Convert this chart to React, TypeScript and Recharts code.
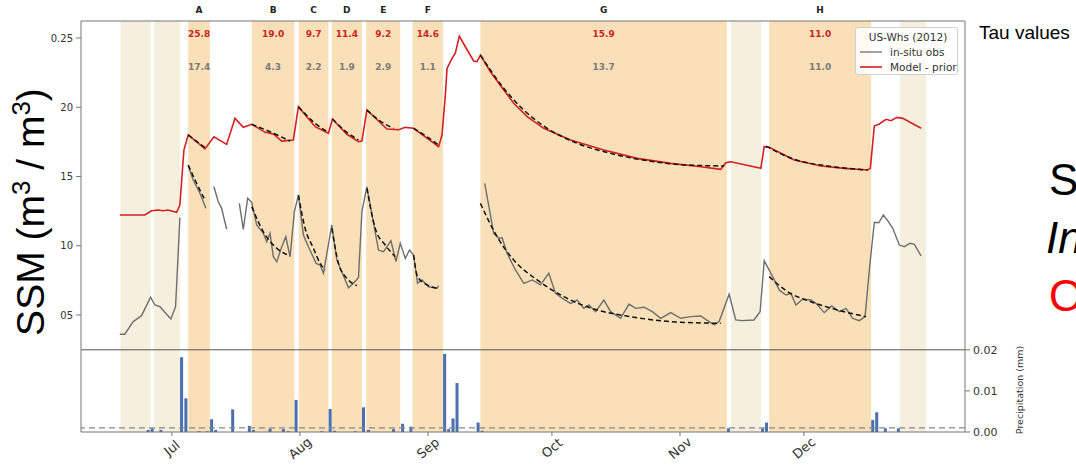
import {
  ComposedChart,
  Line,
  Bar,
  XAxis,
  YAxis,
  ReferenceArea,
  ReferenceLine,
  Legend,
} from "recharts";

// day 0 = 1 Jul 2012
const monthTicks = [0, 31, 62, 92, 123, 153];
const monthNames = ["Jul", "Aug", "Sep", "Oct", "Nov", "Dec"];
const ssmTicks = [0.05, 0.1, 0.15, 0.2, 0.25];
const precipTicks = [0, 0.01, 0.02];

// drydown periods: [start, end], letter, tau model, tau obs
const drydowns: [number, number][] = [
  [3.95, 9.21], [19.33, 29.66], [30.72, 37.9], [38.72, 46.0],
  [47.04, 55.29], [58.27, 65.64], [74.69, 134.34], [144.6, 169.26],
];
const drydownNames = ["A", "B", "C", "D", "E", "F", "G", "H"];
const tauModel = ["25.8", "19.0", "9.7", "11.4", "9.2", "14.6", "15.9", "11.0"];
const tauObs = ["17.4", "4.3", "2.2", "1.9", "2.9", "1.1", "13.7", "11.0"];

// periods shaded without a fit
const otherPeriods: [number, number][] = [
  [-12.44, -5.16], [-4.29, 1.94], [135.3, 142.58], [176.28, 182.59],
];

const modelPrior: [number, number][] = [
  [-12.61, 0.1222], [-6.55, 0.1222], [-4.92, 0.1253], [-3.32, 0.1258], [-2.11, 0.1253],
  [-0.97, 0.1258], [1.14, 0.1242], [1.94, 0.1294], [2.91, 0.1691], [3.95, 0.18],
  [5.99, 0.1751], [8.0, 0.1699], [10.18, 0.1787], [13.26, 0.1732], [15.28, 0.192],
  [17.29, 0.1855], [19.33, 0.1877], [22.55, 0.1819], [24.56, 0.1807], [26.6, 0.1756],
  [29.41, 0.1764], [30.63, 0.2004], [34.68, 0.186], [37.9, 0.1812], [38.87, 0.1915],
  [42.36, 0.1805], [45.17, 0.1751], [46.0, 0.1756], [47.21, 0.198], [52.06, 0.1843],
  [54.87, 0.1838], [56.5, 0.1855], [58.51, 0.1848], [64.57, 0.1715], [65.4, 0.18],
  [66.2, 0.2088], [66.61, 0.2281], [67.82, 0.2353], [68.62, 0.239], [69.59, 0.2514],
  [71.04, 0.2437], [73.06, 0.2334], [73.89, 0.2329], [74.69, 0.2377], [77.11, 0.2257],
  [80.34, 0.2125], [82.76, 0.2029], [86.01, 0.1932], [90.03, 0.1848], [96.51, 0.1764],
  [104.58, 0.1691], [112.68, 0.1631], [120.76, 0.1595], [128.03, 0.1571], [132.88, 0.1552],
  [134.1, 0.16], [135.3, 0.1607], [142.58, 0.1559], [143.38, 0.1715], [144.6, 0.1711],
  [150.66, 0.1619], [157.13, 0.1576], [162.78, 0.1559], [168.45, 0.1547], [169.08, 0.1559],
  [170.05, 0.1865], [171.27, 0.1879], [172.89, 0.1913], [174.1, 0.1903], [175.56, 0.1927],
  [176.94, 0.192], [181.38, 0.1848],
];

// null = no observation
const inSitu: [number, number | null][] = [
  [-12.61, 0.0361], [-11.4, 0.0361], [-9.38, 0.0452], [-7.35, 0.0495], [-5.16, 0.0628],
  [-4.12, 0.0572], [-2.91, 0.056], [-0.24, 0.0471], [0.89, 0.056], [1.94, 0.1203],
  [2.9, null],
  [3.95, 0.1578], [5.17, 0.1475], [6.79, 0.1379], [8.24, 0.127],
  [9.2, null],
  [10.18, 0.1426], [11.23, 0.1318], [12.05, 0.127], [13.26, 0.1119],
  [14.8, null],
  [16.33, 0.1306], [17.29, 0.1119], [18.35, 0.1343], [19.33, 0.1314], [20.53, 0.115],
  [22.14, 0.109], [22.96, 0.1029], [23.76, 0.109], [24.56, 0.0921], [25.39, 0.0885],
  [26.6, 0.0993], [27.57, 0.1065], [28.61, 0.0921], [29.66, 0.1246], [30.63, 0.1366],
  [31.84, 0.1078], [33.05, 0.0993], [34.92, 0.0873], [35.89, 0.0861], [36.69, 0.0801],
  [38.72, 0.115], [39.94, 0.0897], [42.75, 0.0697], [43.96, 0.0729], [45.17, 0.0769],
  [46.0, 0.1246], [47.21, 0.1426], [50.02, 0.0969], [51.24, 0.0957], [53.03, 0.1036],
  [54.24, 0.0885], [55.29, 0.1018], [56.5, 0.0909], [57.54, 0.0969], [58.51, 0.0933],
  [59.48, 0.0729], [60.55, 0.0753], [62.15, 0.0704], [64.19, 0.0693], [64.57, 0.0712],
  [70, null],
  [75.73, 0.1451], [77.91, 0.109], [79.12, 0.1054], [79.95, 0.1058], [81.16, 0.0945],
  [83.17, 0.0825], [85.19, 0.0729], [87.22, 0.0753], [89.23, 0.0717], [91.24, 0.0801],
  [92.87, 0.0657], [94.49, 0.0621], [96.51, 0.0584], [98.13, 0.0608], [99.73, 0.0548],
  [100.95, 0.0572], [102.57, 0.0524], [104.58, 0.0608], [106.21, 0.0524], [108.63, 0.0476],
  [110.65, 0.0579], [112.27, 0.0548], [114.28, 0.0556], [116.32, 0.0524], [118.33, 0.0476],
  [120.76, 0.0517], [123.18, 0.0476], [125.61, 0.0488], [128.03, 0.0493], [130.04, 0.0452],
  [131.3, 0.0428], [132.5, 0.0455], [134.9, 0.065], [136.5, 0.0464], [138.0, 0.0459],
  [140.9, 0.0464], [142.4, 0.0524], [143.4, 0.0892], [145.42, 0.0777], [147.02, 0.0681],
  [148.64, 0.0644], [149.85, 0.0657], [151.07, 0.0572], [152.69, 0.0613], [154.7, 0.0608],
  [155.92, 0.0584], [157.93, 0.0517], [159.72, 0.0565], [161.57, 0.0524], [163.19, 0.0548],
  [164.82, 0.0476], [166.42, 0.0459], [167.8, 0.0488], [169.08, 0.0897], [170.05, 0.1169],
  [171.12, 0.1166], [172.23, 0.1222], [173.3, 0.1181], [174.51, 0.1126], [176.11, 0.1005],
  [177.32, 0.0993], [178.71, 0.1018], [179.75, 0.101], [181.38, 0.0926],
];

// exponential drydown fits (dashed)
const fitModel: [number, number | null][] = [
  [3.95, 0.18], [8.0, 0.1708], [9, null],
  [19.33, 0.1877], [23.76, 0.1823], [28.61, 0.1756], [29.5, null],
  [30.63, 0.2004], [34.68, 0.1884], [37.9, 0.1819], [38.3, null],
  [38.87, 0.1915], [42.36, 0.1819], [45.17, 0.1764], [46.5, null],
  [47.21, 0.198], [50.44, 0.19], [53.66, 0.1848], [56, null],
  [58.51, 0.1848], [61.76, 0.1787], [64.57, 0.1727], [66, null],
  [74.69, 0.2377], [80.34, 0.2137], [85.19, 0.198], [90.86, 0.1848], [98.13, 0.174],
  [106.21, 0.1667], [116.71, 0.1607], [124.8, 0.1583], [133.69, 0.1576], [138, null],
  [143.8, 0.172], [150.66, 0.1624], [158.75, 0.1576], [168.45, 0.1547],
];

const fitObs: [number, number | null][] = [
  [3.95, 0.1583], [5.99, 0.1451], [8.0, 0.133], [9, null],
  [19.33, 0.1282], [22.14, 0.1101], [25.39, 0.0982], [28.61, 0.0926], [29.5, null],
  [30.63, 0.1366], [32.25, 0.1126], [34.26, 0.0982], [35.89, 0.0873], [37.1, 0.0825], [38, null],
  [38.72, 0.1126], [40.33, 0.0873], [42.36, 0.0765], [44.79, 0.0712], [46.5, null],
  [47.21, 0.1415], [49.22, 0.1126], [51.65, 0.1005], [54.07, 0.0921], [56, null],
  [58.51, 0.0933], [59.48, 0.0777], [61.76, 0.0717], [64.19, 0.0693], [66, null],
  [74.69, 0.1306], [78.73, 0.1065], [82.76, 0.0897], [88.43, 0.0753], [94.88, 0.0632],
  [102.98, 0.0536], [111.06, 0.0488], [120.76, 0.0452], [132.88, 0.044], [138, null],
  [144.6, 0.0777], [149.05, 0.0668], [154.7, 0.0596], [161.17, 0.0536], [168.04, 0.0488],
];

const precipDays = [
  -5.74, -4.77, -2.67, 2.35, 3.39, 6.62, 8.56, 9.62, 10.6, 14.72, 18.75, 19.72, 23.76,
  26.99, 28.2, 30.07, 36.3, 38.31, 39.36, 44.4, 46.39, 47.6, 53.66, 55.85, 57.87, 66.03,
  67.0, 68.06, 69.03, 74.13, 75.1, 134.75, 143.0, 143.96, 169.66, 170.63, 172.72, 175.87,
];
const precipMm = [
  0.0005, 0.0009, 0.0005, 0.0182, 0.0082, 0.0002, 0.0002, 0.0031, 0.0005, 0.0055, 0.0015,
  0.0005, 0.0008, 0.0007, 0.0002, 0.0078, 0.0002, 0.0056, 0.0003, 0.0002, 0.006, 0.0005,
  0.0007, 0.002, 0.0013, 0.019, 0.0007, 0.0033, 0.0119, 0.0023, 0.0003, 0.0009, 0.0009,
  0.0023, 0.0029, 0.0048, 0.0009, 0.0009,
];

const BEIGE = "#f5efdd";
const ORANGE = "#f9e0b8";
const RED = "#d42020";
const GREY = "#6e6e6e";
const BLUE = "#4a6fae";
const FONT = "DejaVu Sans, sans-serif";
const SLIDE_FONT = "Liberation Sans, Arial, sans-serif";

const toPts = (arr: [number, number | null][]) => arr.map(([day, v]) => ({ day, v }));

const precipData = precipDays.map((day, i) => ({ day, p: precipMm[i] }));

// the numeric axis squeezes bar widths, so keep a fixed 3px bar centred on the day
function PrecipBar(props: any) {
  const { x, y, width, height } = props;
  if (!height || height <= 0) return null;
  return <rect x={x + width / 2 - 1.5} y={y} width={3} height={height} fill={BLUE} />;
}

function MonthTick({ x, y, payload }: any) {
  const label = monthNames[monthTicks.indexOf(payload.value)];
  return (
    <g transform={`translate(${x},${y + 10}) rotate(-40)`}>
      <text textAnchor="middle" dy="0.35em" fontSize={13} fill="#333" fontFamily={FONT}>
        {label}
      </text>
    </g>
  );
}

const drydownLabel = (i: number) => (props: any) => {
  const { x, y, width } = props.viewBox;
  const cx = x + width / 2;
  return (
    <g fontFamily={FONT} fontWeight="bold" fontSize={9} textAnchor="middle">
      <text x={cx} y={y - 11} dy="0.35em" fill="#222">{drydownNames[i]}</text>
      <text x={cx} y={y + 13} dy="0.35em" fill="#cc2222">{tauModel[i]}</text>
      <text x={cx} y={y + 46} dy="0.35em" fill="#7a7a7a">{tauObs[i]}</text>
    </g>
  );
};

function LegendBox() {
  return (
    <div
      style={{
        width: 103,
        height: 48,
        border: "1px solid #d0d0d0",
        borderRadius: 3,
        background: "rgba(255,255,255,0.85)",
        fontFamily: FONT,
        fontSize: 10.5,
        color: "#333",
        boxSizing: "border-box",
      }}
    >
      <svg width={103} height={48}>
        <text x={52} y={9} dy="0.35em" textAnchor="middle" fontSize={10.5} fill="#333">
          US-Whs (2012)
        </text>
        <line x1={4} x2={26} y1={24} y2={24} stroke={GREY} strokeWidth={1.3} />
        <text x={34} y={24} dy="0.35em" fontSize={10.5} fill="#333">in-situ obs</text>
        <line x1={4} x2={26} y1={39} y2={39} stroke={RED} strokeWidth={1.6} />
        <text x={34} y={39} dy="0.35em" fontSize={10.5} fill="#333">Model - prior</text>
      </svg>
    </div>
  );
}

export default function App() {
  return (
    <div style={{ position: "absolute", left: 0, top: 0, width: 1076, height: 467, background: "#fff", overflow: "hidden" }}>
      <ComposedChart
        width={1076}
        height={467}
        data={precipData}
        margin={{ top: 21, right: 51, bottom: 5, left: 21 }}
      >
        <XAxis
          dataKey="day"
          type="number"
          domain={[-22, 192]}
          allowDataOverflow
          ticks={monthTicks}
          tick={<MonthTick />}
          tickSize={4}
          height={30}
          stroke="#777"
        />
        <YAxis
          yAxisId="ssm"
          domain={[-0.0345, 0.2623]}
          allowDataOverflow
          ticks={ssmTicks}
          tickFormatter={(v: number) => (v === 0.25 ? "0.25" : v.toFixed(2).slice(2))}
          tick={{ fontSize: 10, fill: "#333", fontFamily: FONT }}
          tickSize={5}
          tickMargin={3}
          width={60}
          stroke="#777"
        />
        <YAxis
          yAxisId="precip"
          orientation="right"
          domain={[0, 0.1]}
          allowDataOverflow
          ticks={precipTicks}
          tickFormatter={(v: number) => v.toFixed(2)}
          tick={{ fontSize: 11, fill: "#333", fontFamily: FONT }}
          tickSize={5}
          tickMargin={3}
          width={60}
          stroke="#777"
        />

        {otherPeriods.map(([a, b], i) => (
          <ReferenceArea key={"o" + i} yAxisId="ssm" x1={a} x2={b} fill={BEIGE} fillOpacity={1} stroke="none" />
        ))}
        {drydowns.map(([a, b], i) => (
          <ReferenceArea
            key={"d" + i}
            yAxisId="ssm"
            x1={a}
            x2={b}
            fill={ORANGE}
            fillOpacity={1}
            stroke="none"
            label={drydownLabel(i)}
          />
        ))}

        <ReferenceLine yAxisId="ssm" y={0.2623} stroke="#777" strokeWidth={1.2} />
        <ReferenceLine yAxisId="precip" y={0.02} stroke="#555" strokeWidth={1} />

        <Bar yAxisId="precip" dataKey="p" fill={BLUE} shape={<PrecipBar />} isAnimationActive={false} />

        <ReferenceLine yAxisId="precip" y={0.001} stroke="#888" strokeDasharray="6 4" strokeWidth={1.2} />

        <Line
          yAxisId="ssm"
          data={toPts(inSitu)}
          dataKey="v"
          type="linear"
          stroke={GREY}
          strokeWidth={1.4}
          dot={false}
          connectNulls={false}
          isAnimationActive={false}
        />
        <Line
          yAxisId="ssm"
          data={toPts(modelPrior)}
          dataKey="v"
          type="linear"
          stroke={RED}
          strokeWidth={1.6}
          dot={false}
          isAnimationActive={false}
        />
        <Line
          yAxisId="ssm"
          data={toPts(fitModel)}
          dataKey="v"
          type="monotone"
          stroke="#111"
          strokeWidth={1.5}
          strokeDasharray="5 3"
          dot={false}
          connectNulls={false}
          isAnimationActive={false}
        />
        <Line
          yAxisId="ssm"
          data={toPts(fitObs)}
          dataKey="v"
          type="monotone"
          stroke="#111"
          strokeWidth={1.5}
          strokeDasharray="5 3"
          dot={false}
          connectNulls={false}
          isAnimationActive={false}
        />

        <Legend
          layout="vertical"
          align="center"
          verticalAlign="middle"
          content={() => <LegendBox />}
          wrapperStyle={{ top: 27, left: 855, width: 103, height: 48 }}
        />
      </ComposedChart>

      <svg
        width={1076}
        height={467}
        style={{ position: "absolute", left: 0, top: 0, pointerEvents: "none" }}
      >
        <text
          transform="translate(44,212) rotate(-90)"
          textAnchor="middle"
          fontFamily={SLIDE_FONT}
          fontSize={39}
          fill="#000"
        >
          SSM (m<tspan dy={-14} fontSize={26}>3</tspan>
          <tspan dy={14}> / m</tspan>
          <tspan dy={-14} fontSize={26}>3</tspan>
          <tspan dy={14}>)</tspan>
        </text>
        <text
          transform="translate(1020,390) rotate(-90)"
          textAnchor="middle"
          dy="0.35em"
          fontFamily={FONT}
          fontSize={9.5}
          fill="#333"
        >
          Precipitation (mm)
        </text>
        <text x={979} y={39} fontFamily={SLIDE_FONT} fontSize={19} fill="#000">
          Tau values
        </text>
        <text x={1049} y={195} fontFamily={SLIDE_FONT} fontSize={44} fill="#000">S</text>
        <text x={1046} y={253} fontFamily={SLIDE_FONT} fontSize={44} fontStyle="italic" fill="#000">In</text>
        <text x={1049} y={311} fontFamily={SLIDE_FONT} fontSize={44} fill="#ff0000">O</text>
      </svg>
    </div>
  );
}
